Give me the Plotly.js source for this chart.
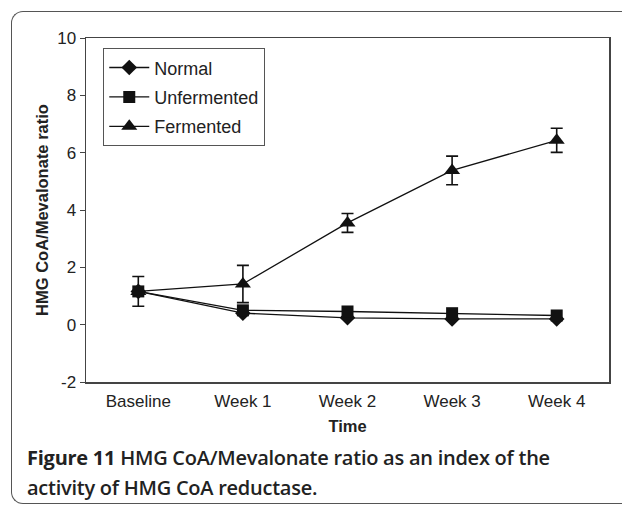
<!DOCTYPE html>
<html>
<head>
<meta charset="utf-8">
<script src="https://cdn.plot.ly/plotly-3.0.1.min.js"></script>
<style>
  html, body { margin: 0; padding: 0; background: #fff; }
  #wrap { position: relative; width: 622px; height: 506px; overflow: hidden; background: #fff; }
  #frame { position: absolute; left: 11px; top: 11px; width: 700px; height: 493px;
           border-left: 1.5px solid #555; border-top: 1.5px solid #555; border-bottom: 1.5px solid #555;
           border-top-left-radius: 12px; border-bottom-left-radius: 12px; box-sizing: border-box; }
  #chart { position: absolute; left: 0; top: 0; width: 622px; height: 506px; }
  .cap { position: absolute; left: 27px; white-space: nowrap;
         font-family: "Open Sans", sans-serif; font-size: 20px; line-height: 28px;
         color: #222; font-weight: 600; letter-spacing: -0.25px; }
  .cap span { display: inline-block; }
</style>
</head>
<body>
<div id="wrap">
  <div id="frame"></div>
  <div id="chart"></div>
  <div class="cap" style="top:444px"><span style="font-weight:700">Figure 11</span>&nbsp;<span>HMG CoA/Mevalonate ratio as an index of the</span></div>
  <div class="cap" style="top:474px"><span>activity of HMG CoA reductase.</span></div>
</div>
<script>
const categories = ["Baseline", "Week 1", "Week 2", "Week 3", "Week 4"];
const normal = [1.16, 0.40, 0.24, 0.20, 0.20];
const unfermented = [1.16, 0.50, 0.46, 0.40, 0.32];
const fermented = [1.16, 1.42, 3.55, 5.38, 6.43];
const fermentedErr = [0.52, 0.65, 0.33, 0.50, 0.42];
const yTickVals = [-2, 0, 2, 4, 6, 8, 10];
const yTickText = ["-2", "0", "2", "4", "6", "8", "10"];

const lineStyle = { color: "#111", width: 1.3 };
const traces = [
  {
    x: categories, y: fermented, name: "Fermented", type: "scatter", mode: "lines+markers",
    line: lineStyle, marker: { symbol: "triangle-up", size: 14, color: "#111" },
    error_y: { type: "data", array: fermentedErr, visible: true, color: "#111", thickness: 1.6, width: 6 },
    legendrank: 3, legendgroup: "c"
  },
  {
    x: categories, y: normal, name: "Normal", type: "scatter", mode: "lines+markers",
    line: lineStyle, marker: { symbol: "diamond", size: 12, color: "#111" },
    legendrank: 1, legendgroup: "a"
  },
  {
    x: categories, y: unfermented, name: "Unfermented", type: "scatter", mode: "lines+markers",
    line: lineStyle, marker: { symbol: "square", size: 12, color: "#111" },
    legendrank: 2, legendgroup: "b"
  }
];

const layout = {
  width: 622, height: 506,
  margin: { l: 86, r: 13, t: 38, b: 124 },
  paper_bgcolor: "rgba(0,0,0,0)", plot_bgcolor: "#fff",
  font: { family: "Liberation Sans, Arial, sans-serif", size: 16, color: "#222" },
  showlegend: true,
  legend: {
    x: 0.033, y: 0.97, xanchor: "left", yanchor: "top",
    bordercolor: "#555", borderwidth: 1, bgcolor: "#fff",
    font: { size: 18, color: "#222" }, tracegroupgap: 3, itemwidth: 40,
    traceorder: "grouped"
  },
  xaxis: {
    type: "category", range: [-0.5, 4.5], showline: true, linecolor: "#444", linewidth: 1.5,
    mirror: true, ticks: "", showgrid: false, zeroline: false,
    tickfont: { size: 17, color: "#222" }, ticklabelstandoff: 3,
    title: { text: "<b>Time</b>", font: { size: 16.5, color: "#222" }, standoff: 10 }
  },
  yaxis: {
    range: [-2, 10], tickvals: yTickVals, ticktext: yTickText, showline: true, linecolor: "#444", linewidth: 1.5,
    mirror: true, ticks: "outside", ticklen: 5, tickcolor: "#444", showgrid: false, zeroline: false,
    tickfont: { size: 17, color: "#222" },
    title: { text: "<b>HMG CoA/Mevalonate ratio</b>", font: { size: 16.5, color: "#222" }, standoff: 4 }
  }
};

Plotly.newPlot("chart", traces, layout, { displayModeBar: false, staticPlot: true });
</script>
</body>
</html>
